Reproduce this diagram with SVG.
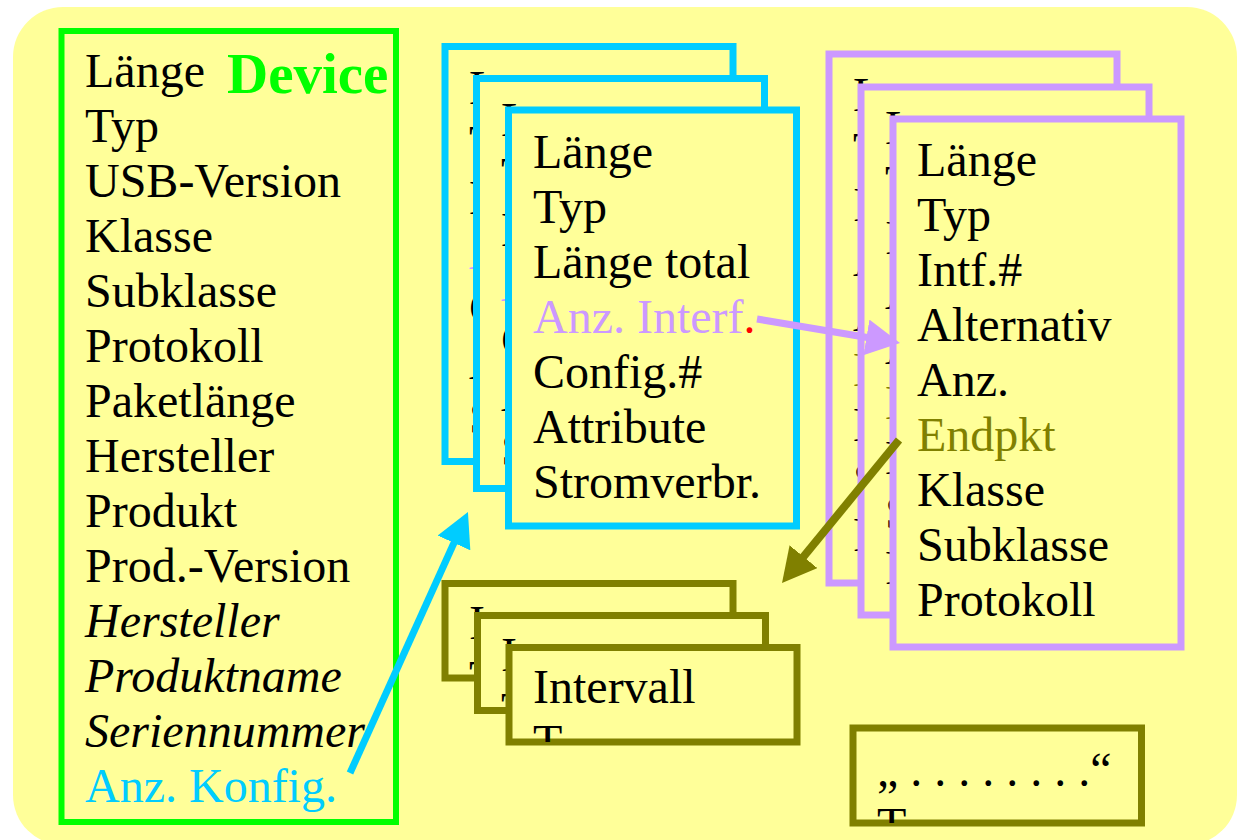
<svg xmlns="http://www.w3.org/2000/svg" width="1240" height="840" viewBox="0 0 1240 840">
<style>
.card{fill:#ffff99;stroke-width:7}
.b{stroke:#00ccff}
.p{stroke:#cc99ff}
.o{stroke:#808000}
text{font-family:"Liberation Serif","Times New Roman",serif;font-size:48px;fill:#000}
.it{font-style:italic}
.con{fill:none}
</style>
<defs>
<clipPath id="cb1"><rect x="445" y="46.5" width="288" height="415"/></clipPath>
<clipPath id="cb2"><rect x="476.5" y="78.5" width="288" height="410"/></clipPath>
<clipPath id="cb3"><rect x="508.5" y="110" width="288" height="416"/></clipPath>
<clipPath id="cp1"><rect x="829" y="54" width="288" height="529"/></clipPath>
<clipPath id="cp2"><rect x="861" y="87" width="288" height="528"/></clipPath>
<clipPath id="cp3"><rect x="893" y="119" width="288" height="528"/></clipPath>
<clipPath id="co1"><rect x="445" y="583.5" width="288" height="94.5"/></clipPath>
<clipPath id="co2"><rect x="477.5" y="615.5" width="288" height="95"/></clipPath>
<clipPath id="co3"><rect x="509" y="647.5" width="288" height="94.5"/></clipPath>
<clipPath id="cq"><rect x="853" y="728" width="288.5" height="95"/></clipPath>
<marker id="ab" markerUnits="userSpaceOnUse" markerWidth="34" markerHeight="36" refX="4" refY="18" orient="auto"><path d="M0,0 L34,18 L0,36 z" fill="#00ccff"/></marker>
<marker id="ap" markerUnits="userSpaceOnUse" markerWidth="34" markerHeight="36" refX="4" refY="18" orient="auto"><path d="M0,0 L34,18 L0,36 z" fill="#cc99ff"/></marker>
<marker id="ao" markerUnits="userSpaceOnUse" markerWidth="34" markerHeight="36" refX="4" refY="18" orient="auto"><path d="M0,0 L34,18 L0,36 z" fill="#808000"/></marker>
</defs>
<rect x="13" y="7" width="1224" height="838" rx="50" ry="50" fill="#ffff99"/>

<g id="device">
<rect x="61.5" y="31" width="334.5" height="791" fill="#ffff99" stroke="#00ff00" stroke-width="6"/>
<text x="227" y="93" style="font-weight:bold;font-size:57px;fill:#00ff00">Device</text>
<text x="85" y="87">Länge</text>
<text x="85" y="142">Typ</text>
<text x="85" y="197">USB-Version</text>
<text x="85" y="252">Klasse</text>
<text x="85" y="307">Subklasse</text>
<text x="85" y="362">Protokoll</text>
<text x="85" y="417">Paketlänge</text>
<text x="85" y="472">Hersteller</text>
<text x="85" y="527">Produkt</text>
<text x="85" y="582">Prod.-Version</text>
<text x="85" y="637" class="it">Hersteller</text>
<text x="85" y="692" class="it">Produktname</text>
<text x="85" y="747" class="it">Seriennummer</text>
<text x="85" y="802" style="fill:#00ccff">Anz. Konfig.</text>
</g>

<g id="config1">
<rect class="card b" x="445" y="46.5" width="288" height="415"/>
<g clip-path="url(#cb1)">
<text x="469" y="104">L</text><text x="469" y="159">T</text><text x="469" y="214">L</text>
<text x="469" y="269" style="fill:#cc99ff">A</text>
<text x="469" y="324">C</text><text x="469" y="379">A</text><text x="469" y="434">S</text>
</g>
</g>
<g id="config2">
<rect class="card b" x="476.5" y="78.5" width="288" height="410"/>
<g clip-path="url(#cb2)">
<text x="501" y="136">L</text><text x="501" y="191">T</text><text x="501" y="246">L</text>
<text x="501" y="301" style="fill:#cc99ff">A</text>
<text x="501" y="356">C</text><text x="501" y="411">A</text><text x="501" y="466">S</text>
</g>
</g>
<g id="config3">
<rect class="card b" x="508.5" y="110" width="288" height="416"/>
<g clip-path="url(#cb3)">
<text x="533" y="168">Länge</text><text x="533" y="223">Typ</text><text x="533" y="278">Länge total</text>
<text x="533" y="333" style="fill:#cc99ff">Anz. Interf<tspan style="fill:#ff0000">.</tspan></text>
<text x="533" y="388">Config.#</text><text x="533" y="443">Attribute</text><text x="533" y="498">Stromverbr.</text>
</g>
</g>

<g id="interface1">
<rect class="card p" x="829" y="54" width="288" height="529"/>
<g clip-path="url(#cp1)">
<text x="853" y="111">L</text><text x="853" y="166">T</text><text x="853" y="221">I</text>
<text x="853" y="276">A</text><text x="853" y="331">A</text>
<text x="853" y="386" style="fill:#808000">E</text>
<text x="853" y="441">K</text><text x="853" y="496">S</text><text x="853" y="551">P</text>
</g>
</g>
<g id="interface2">
<rect class="card p" x="861" y="87" width="288" height="528"/>
<g clip-path="url(#cp2)">
<text x="885" y="144">L</text><text x="885" y="199">T</text><text x="885" y="254">I</text>
<text x="885" y="309">A</text><text x="885" y="364">A</text>
<text x="885" y="419" style="fill:#808000">E</text>
<text x="885" y="474">K</text><text x="885" y="529">S</text><text x="885" y="584">P</text>
</g>
</g>
<g id="interface3">
<rect class="card p" x="893" y="119" width="288" height="528"/>
<g clip-path="url(#cp3)">
<text x="917" y="176">Länge</text><text x="917" y="231">Typ</text><text x="917" y="286">Intf.#</text>
<text x="917" y="341">Alternativ</text><text x="917" y="396">Anz.</text>
<text x="917" y="451" style="fill:#808000">Endpkt</text>
<text x="917" y="506">Klasse</text><text x="917" y="561">Subklasse</text><text x="917" y="616">Protokoll</text>
</g>
</g>

<g id="endpoint1">
<rect class="card o" x="445" y="583.5" width="288" height="94.5"/>
<g clip-path="url(#co1)"><text x="469" y="639">I</text><text x="469" y="694">T</text></g>
</g>
<g id="endpoint2">
<rect class="card o" x="477.5" y="615.5" width="288" height="95"/>
<g clip-path="url(#co2)"><text x="501" y="671">I</text><text x="501" y="726">T</text></g>
</g>
<g id="endpoint3">
<rect class="card o" x="509" y="647.5" width="288" height="94.5"/>
<g clip-path="url(#co3)"><text x="533" y="703">Intervall</text><text x="533" y="758">T</text></g>
</g>

<g id="string">
<rect class="card o" x="853" y="728" width="288.5" height="95"/>
<g clip-path="url(#cq)"><text x="877" y="786">„ . . . . . . . .“</text><text x="877" y="841">T</text></g>
</g>

<g id="connectors" class="con">
<line x1="350" y1="773" x2="455.6" y2="539.3" stroke="#00ccff" stroke-width="7" marker-end="url(#ab)"/>
<line x1="757" y1="319" x2="870.4" y2="338" stroke="#cc99ff" stroke-width="7" marker-end="url(#ap)"/>
<line x1="899" y1="440" x2="801" y2="559.8" stroke="#808000" stroke-width="8" marker-end="url(#ao)"/>
</g>
</svg>
